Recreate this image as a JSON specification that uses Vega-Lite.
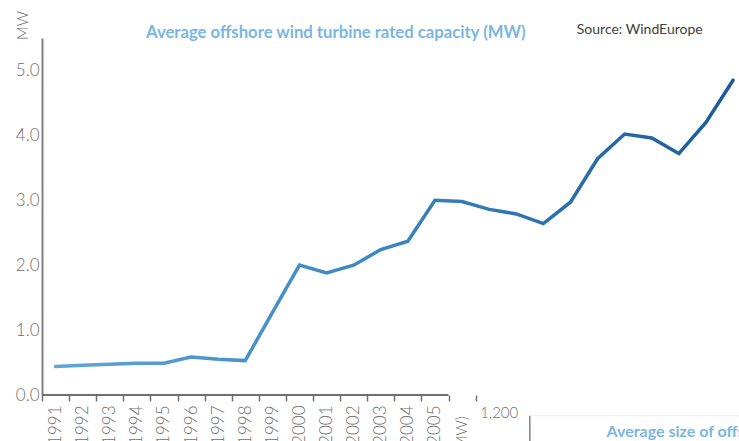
{
  "$schema": "https://vega.github.io/schema/vega-lite/v6.json",
  "autosize": {"type": "none"},
  "padding": {"left": 42, "top": 38, "right": 0, "bottom": 46},
  "width": 697,
  "height": 357,
  "background": "white",
  "title": {
    "text": "Average offshore wind turbine rated capacity (MW)",
    "anchor": "start",
    "frame": "group",
    "dx": 104,
    "offset": -31,
    "font": "Lato",
    "fontSize": 16.7,
    "fontWeight": "bold",
    "color": "#7ab6e3"
  },
  "config": {
    "view": {"stroke": null},
    "font": "Lato"
  },
  "data": {
    "values": [
      {"year": "1991", "mw": 0.44},
      {"year": "1992", "mw": 0.46},
      {"year": "1993", "mw": 0.475},
      {"year": "1994", "mw": 0.49},
      {"year": "1995", "mw": 0.49},
      {"year": "1996", "mw": 0.585},
      {"year": "1997", "mw": 0.55},
      {"year": "1998", "mw": 0.53},
      {"year": "1999", "mw": 1.27},
      {"year": "2000", "mw": 2.0},
      {"year": "2001", "mw": 1.88},
      {"year": "2002", "mw": 2.0},
      {"year": "2003", "mw": 2.24},
      {"year": "2004", "mw": 2.37},
      {"year": "2005", "mw": 3.0},
      {"year": "2006", "mw": 2.98},
      {"year": "2007", "mw": 2.86},
      {"year": "2008", "mw": 2.79},
      {"year": "2009", "mw": 2.64},
      {"year": "2010", "mw": 2.97},
      {"year": "2011", "mw": 3.64},
      {"year": "2012", "mw": 4.02},
      {"year": "2013", "mw": 3.96},
      {"year": "2014", "mw": 3.72},
      {"year": "2015", "mw": 4.2},
      {"year": "2016", "mw": 4.85}
    ]
  },
  "encoding": {
    "x": {
      "field": "year",
      "type": "ordinal",
      "scale": {"type": "band", "range": [0, 704.6], "paddingInner": 0, "paddingOuter": 0},
      "axis": {
        "title": null,
        "domain": false,
        "tickBand": "extent",
        "tickSize": 6,
        "tickWidth": 1.5,
        "tickColor": {"condition": {"test": "toNumber(datum.value) > 2006", "value": "transparent"}, "value": "#707070"},
        "labelExpr": "toNumber(datum.value) <= 2005 ? datum.label : ''",
        "labelAngle": -90,
        "labelAlign": "right",
        "labelBaseline": "middle",
        "labelPadding": 4,
        "labelFontSize": 17,
        "labelColor": "#6e6e6e",
        "labelFont": "Lato",
        "labelFontWeight": 300,
        "grid": false
      }
    }
  },
  "layer": [
    {
      "data": {"values": [{}]},
      "mark": {"type": "rule", "color": "#707070", "strokeWidth": 2},
      "encoding": {
        "x": {"datum": "1991", "type": "ordinal", "bandPosition": 0},
        "x2": {"datum": "2006", "bandPosition": 0},
        "y": {"datum": 0, "type": "quantitative"}
      }
    },
    {
      "mark": {
        "type": "line",
        "strokeWidth": 3.5,
        "strokeCap": "round",
        "strokeJoin": "miter",
        "color": {
          "gradient": "linear",
          "x1": 0, "y1": 0, "x2": 1, "y2": 0,
          "stops": [
            {"offset": 0, "color": "#5ea6d6"},
            {"offset": 0.5, "color": "#3a84c0"},
            {"offset": 1, "color": "#1b5a9a"}
          ]
        }
      },
      "encoding": {
        "x": {"field": "year", "type": "ordinal", "bandPosition": 0.5},
        "y": {
          "field": "mw",
          "type": "quantitative",
          "scale": {"domain": [0, 5.5], "nice": false, "zero": true},
          "axis": {
            "values": [0, 1, 2, 3, 4, 5],
            "format": ".1f",
            "title": "MW",
            "titleAngle": -90,
            "titleX": -20,
            "titleY": -13,
            "titleAlign": "center",
            "titleBaseline": "middle",
            "titleFont": "Lato",
            "titleFontWeight": 300,
            "titleFontSize": 15,
            "titleColor": "#6e6e6e",
            "domainColor": "#808080",
            "domainWidth": 2,
            "ticks": false,
            "labelPadding": 3,
            "labelFontSize": 17,
            "labelFont": "Lato",
            "labelFontWeight": 300,
            "labelColor": "#6e6e6e",
            "gridColor": "#dcdcdc",
            "gridWidth": 1.5
          }
        }
      }
    },
    {
      "data": {"values": [{}]},
      "mark": {"type": "text", "text": "Source: WindEurope", "font": "Lato", "fontSize": 14, "color": "#404040", "align": "center", "baseline": "middle", "dy": -8, "dx": -12},
      "encoding": {
        "x": {"datum": "2013", "type": "ordinal", "bandPosition": 0.5},
        "y": {"datum": 5.5, "type": "quantitative"}
      }
    },
    {
      "data": {"values": [{}]},
      "mark": {"type": "text", "text": "1,200", "font": "Lato", "fontWeight": 300, "fontSize": 15, "color": "#6e6e6e", "align": "right", "baseline": "middle", "dx": 2},
      "encoding": {
        "x": {"datum": "2008", "type": "ordinal", "bandPosition": 0.5},
        "y": {"datum": -0.28, "type": "quantitative"}
      }
    },
    {
      "data": {"values": [{}]},
      "mark": {"type": "text", "text": "(MW)", "font": "Lato", "fontWeight": 300, "fontSize": 15, "color": "#6e6e6e", "align": "right", "baseline": "middle", "angle": -90},
      "encoding": {
        "x": {"datum": "2006", "type": "ordinal", "bandPosition": 0.5},
        "y": {"datum": -0.33, "type": "quantitative"}
      }
    },
    {
      "data": {"values": [{}]},
      "mark": {"type": "rule", "color": "#808080", "strokeWidth": 1.5},
      "encoding": {
        "x": {"datum": "2009", "type": "ordinal", "bandPosition": 0},
        "y": {"datum": -0.32, "type": "quantitative"},
        "y2": {"datum": -0.75}
      }
    },
    {
      "data": {"values": [{}]},
      "mark": {"type": "rule", "color": "#ececec", "strokeWidth": 1},
      "encoding": {
        "x": {"datum": "2009", "type": "ordinal", "bandPosition": 0},
        "x2": {"datum": "2016", "bandPosition": 1},
        "y": {"datum": -0.32, "type": "quantitative"}
      }
    },
    {
      "data": {"values": [{}]},
      "mark": {"type": "text", "text": "Average size of offshore wind farms (MW)", "font": "Lato", "fontWeight": "bold", "fontSize": 16, "color": "#7ab6e3", "align": "left", "baseline": "middle", "dx": 9},
      "encoding": {
        "x": {"datum": "2011", "type": "ordinal", "bandPosition": 0.5},
        "y": {"datum": -0.57, "type": "quantitative"}
      }
    }
  ]
}
